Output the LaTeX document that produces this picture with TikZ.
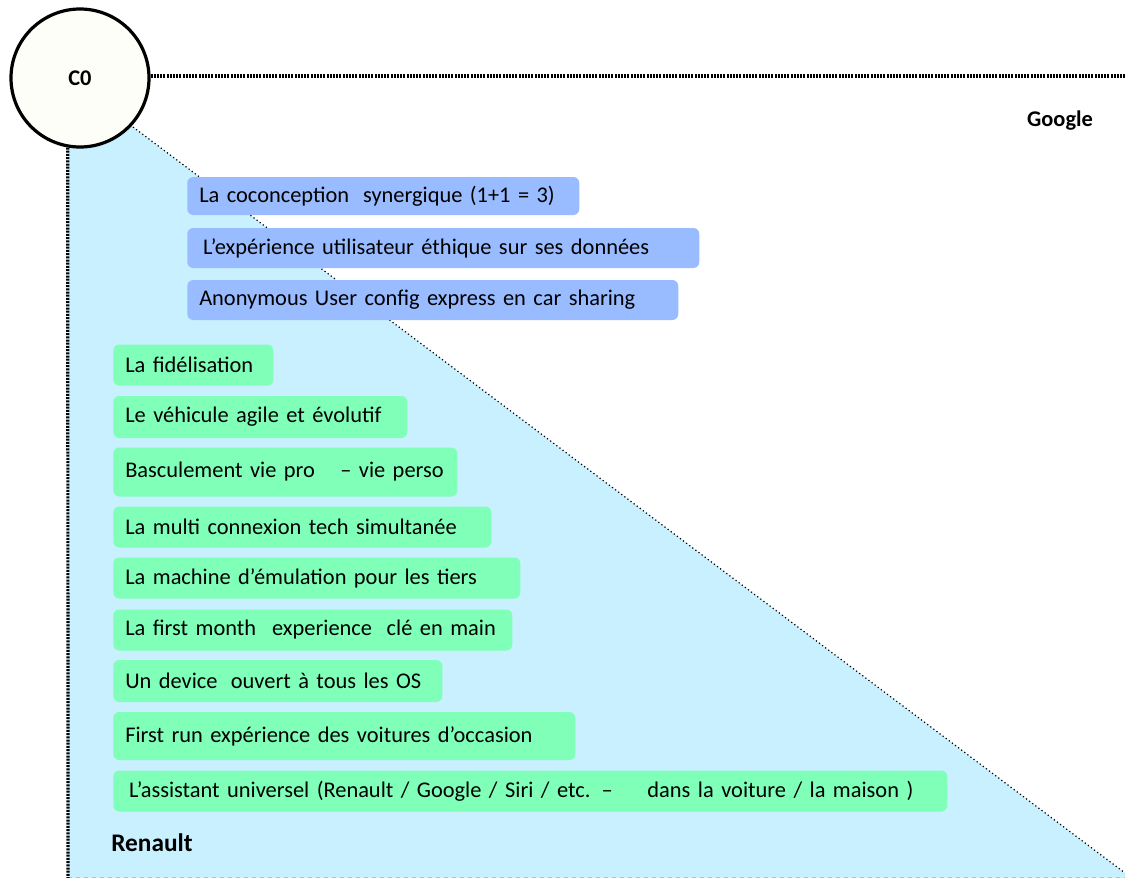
\documentclass[tikz,border=0pt]{standalone}
\usepackage{fontspec}
\setmainfont{Carlito}
\definecolor{fondbleu}{HTML}{C8F0FF}
\definecolor{bleubox}{HTML}{99BBFF}
\definecolor{vertbox}{HTML}{7FFFB8}
\definecolor{fondcercle}{HTML}{FEFEF8}
\tikzset{
  boite/.style={rectangle, rounded corners=4.5pt, anchor=west, inner xsep=9pt,
    inner ysep=0pt, align=left, font=\fontsize{16.8}{19}\selectfont},
  bleu/.style={boite, fill=bleubox},
  vert/.style={boite, fill=vertbox},
  pointille/.style={line width=2.4pt, dash pattern=on 1.5pt off 0.9pt},
  titre/.style={font=\fontsize{16.8}{19}\selectfont\bfseries}
}
\begin{document}
\begin{tikzpicture}[x=0.75pt,y=-0.75pt]
  \def\px{0.75pt}
  \pgfmathsetmacro{\xg}{113}
  \pgfmathsetmacro{\xb}{187}
  \useasboundingbox (0,0) rectangle (1125,878);
  \coordinate (coin) at (133,127);
  \coordinate (basdroite) at (1125,873);
  \coordinate (basgauche) at (68,878);
  \coordinate (finhaut) at (1125,76);
  % zone Renault
  \fill[fondbleu] (68,78) -- (coin) -- (basdroite) -- (1125,878) -- (basgauche) -- cycle;
  \draw[color=fondbleu!60!gray, dashed, line width=0.6pt] (68,877) -- (1125,877);
  \draw[line width=0.9pt, dotted] (coin) -- (basdroite);
  \node[circle, draw, line width=2.4pt, fill=fondcercle, minimum size=138*\px,
    titre] (c0) at (80,78) {C0};
  \draw[pointille] (c0.east |- finhaut) -- (finhaut);
  \draw[pointille] (c0.260) -- (basgauche);
  \node[titre] (google) at (1060,121) {Google};
  \node[titre, font=\fontsize{19}{21}\selectfont\bfseries] (renault) at (152,843) {Renault};
  % cas d'usage Google
  \node[bleu, text width=(579-\xb-24)*\px, minimum height=38*\px] (cocon) at (\xb,196)
    {\mbox{La coconception\hspace{10.5pt}synergique (1+1 = 3)}};
  \node[bleu, text width=(699-\xb-24)*\px, minimum height=40*\px] (ethique) at (\xb,248)
    {\mbox{\,L’expérience utilisateur éthique sur ses données}};
  \node[bleu, text width=(678-\xb-24)*\px, minimum height=40*\px] (anonyme) at (\xb,300)
    {\mbox{Anonymous User config express en car sharing}};
  % cas d'usage Renault
  \node[vert, text width=(273-\xg-24)*\px, minimum height=41*\px] (fidel) at (\xg,365)
    {\mbox{La fidélisation}};
  \node[vert, text width=(407-\xg-24)*\px, minimum height=42*\px] (agile) at (\xg,417)
    {\mbox{Le véhicule agile et évolutif}};
  \node[vert, text width=(457-\xg-24)*\px, minimum height=49*\px] (bascule) at (\xg,472)
    {\mbox{Basculement vie pro\hspace{19pt}– vie perso}};
  \node[vert, text width=(491-\xg-24)*\px, minimum height=41*\px] (multi) at (\xg,527)
    {\mbox{La multi connexion tech simultanée}};
  \node[vert, text width=(520-\xg-24)*\px, minimum height=41*\px] (emul) at (\xg,578)
    {\mbox{La machine d’émulation pour les tiers}};
  \node[vert, text width=(512-\xg-24)*\px, minimum height=41*\px] (first) at (\xg,630)
    {\mbox{La first month\hspace{12pt}experience\hspace{11pt}clé en main}};
  \node[vert, text width=(442-\xg-24)*\px, minimum height=42*\px] (device) at (\xg,681)
    {\mbox{Un device\hspace{10pt}ouvert à tous les OS}};
  \node[vert, text width=(575-\xg-24)*\px, minimum height=48*\px] (occas) at (\xg,736)
    {\mbox{First run expérience des voitures d’occasion}};
  \node[vert, text width=(947-\xg-24)*\px, minimum height=41*\px] (assist) at (\xg,791)
    {\mbox{\,L’assistant universel (Renault / Google / Siri / etc. –\hspace{26pt}dans la voiture / la maison )}};
\end{tikzpicture}
\end{document}
